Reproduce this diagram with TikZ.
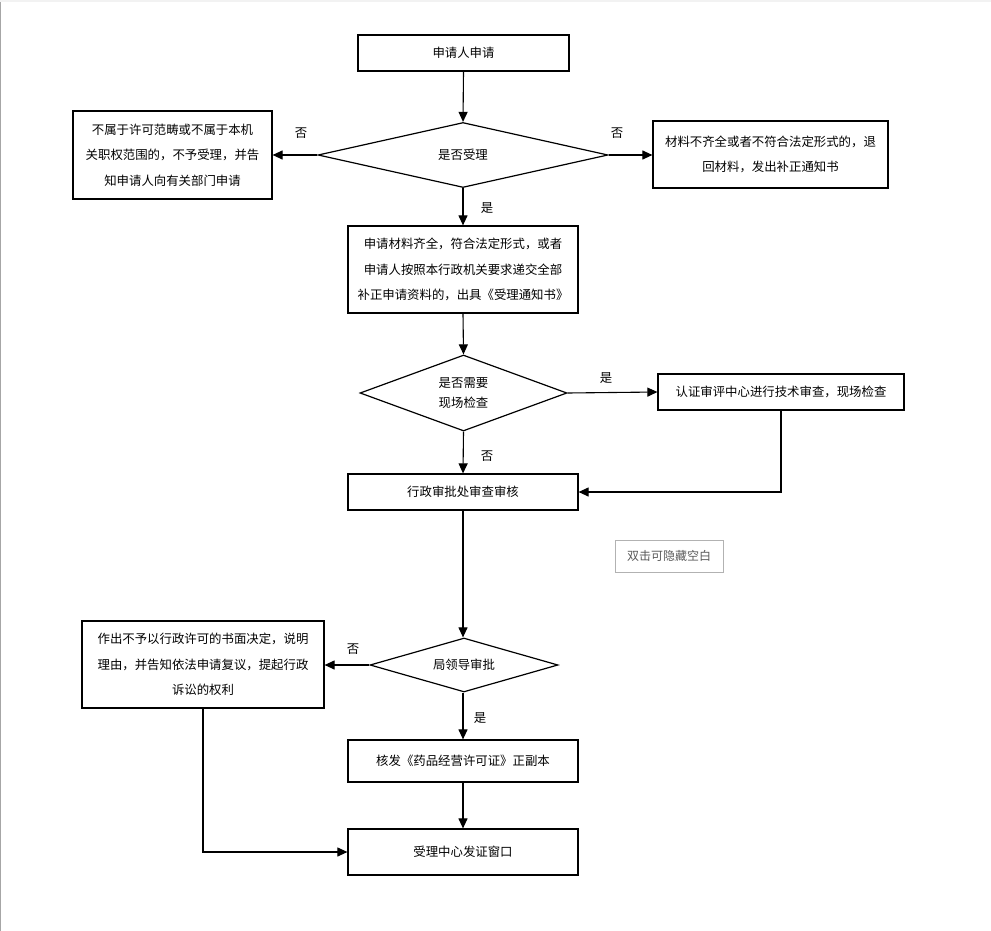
\documentclass[tikz,border=0pt]{standalone}
\usepackage{fontspec}
\setmainfont{Noto Sans CJK SC}
\usetikzlibrary{shapes.geometric,arrows.meta}
\begin{document}
\begin{tikzpicture}[x=1pt,y=-1pt,
  box/.style={draw,line width=1.2pt,inner sep=0pt,align=center,font=\fontsize{12.4}{25.5}\selectfont},
  dia/.style={draw,line width=1.2pt,diamond,inner sep=0pt,align=center,font=\fontsize{12.4}{25}\selectfont},
  arr/.style={line width=1.1pt,-{Triangle[length=10pt,width=9pt]}},
  lbl/.style={font=\fontsize{12.4}{14}\selectfont,inner sep=0pt}]
\useasboundingbox (0,0) rectangle (991,931);
\draw[gray!70,line width=1pt] (0.5,0) -- (0.5,931);
\fill[gray!10] (0,0) rectangle (991,2);

\node[box,minimum width=211pt,minimum height=36pt] (start) at (463.5,53) {申请人申请};
\node[dia,minimum width=290pt,minimum height=65pt,aspect=4.4] (d1) at (463,155) {是否受理};
\node[box,minimum width=199pt,minimum height=88pt] (rej1) at (172.5,155) {不属于许可范畴或不属于本机\\关职权范围的，不予受理，并告\\知申请人向有关部门申请};
\node[box,minimum width=235pt,minimum height=67pt] (ret) at (770.5,154.5) {材料不齐全或者不符合法定形式的，退\\回材料，发出补正通知书};
\node[box,minimum width=230pt,minimum height=87pt] (acc) at (463,269.5) {申请材料齐全，符合法定形式，或者\\申请人按照本行政机关要求递交全部\\补正申请资料的，出具《受理通知书》};
\node[dia,minimum width=207pt,minimum height=76pt,aspect=2.7,font=\fontsize{12.4}{20}\selectfont] (d2) at (463.5,393) {是否需要\\现场检查};
\node[box,minimum width=246pt,minimum height=36pt] (tech) at (781,392) {认证审评中心进行技术审查，现场检查};
\node[box,minimum width=230pt,minimum height=36pt] (rev) at (463,492) {行政审批处审查审核};
\node[draw=gray!60,line width=0.8pt,minimum width=108pt,minimum height=32pt,inner sep=0pt,text=gray!70!black,font=\fontsize{12}{14}\selectfont] (hint) at (669,556) {双击可隐藏空白};
\node[dia,minimum width=188pt,minimum height=54pt,aspect=3.5] (d3) at (464,665) {局领导审批};
\node[box,minimum width=242pt,minimum height=87pt] (rej2) at (203,664.5) {作出不予以行政许可的书面决定，说明\\理由，并告知依法申请复议，提起行政\\诉讼的权利};
\node[box,minimum width=230pt,minimum height=42pt] (issue) at (463,761) {核发《药品经营许可证》正副本};
\node[box,minimum width=230pt,minimum height=46pt] (win) at (463,852) {受理中心发证窗口};

\draw[arr] (start.south) -- (d1.north);
\draw[arr] (d1.west) -- (rej1.east);
\draw[arr] (d1.east) -- (ret.west |- d1.east);
\draw[arr] (d1.south) -- (acc.north);
\draw[arr] (acc.south) -- (d2.north);
\draw[arr] (d2.east) -- (tech.west);
\draw[arr] (d2.south) -- (rev.north);
\draw[arr] (tech.south) |- (rev.east);
\draw[arr] (rev.south) -- (d3.north -| rev.south);
\draw[arr] (d3.west) -- (rej2.east |- d3.west);
\draw[arr] (d3.south -| issue.north) -- (issue.north);
\draw[arr] (issue.south) -- (win.north);
\draw[arr] (rej2.south) |- (win.west);

\node[lbl] (l1) at (301,133) {否};
\node[lbl] (l2) at (617,133) {否};
\node[lbl] (l3) at (487,208) {是};
\node[lbl] (l4) at (606,378) {是};
\node[lbl] (l5) at (487,456) {否};
\node[lbl] (l6) at (353,649) {否};
\node[lbl] (l7) at (480,718) {是};
\end{tikzpicture}
\end{document}
